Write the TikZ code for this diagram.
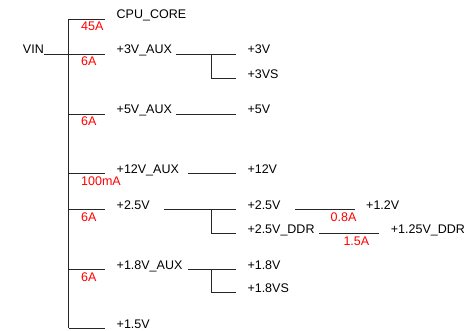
\documentclass[tikz,border=0pt]{standalone}
\usepackage{fontspec}
\setmainfont{Liberation Sans}
\begin{document}
\begin{tikzpicture}[x=1pt,y=-1pt,
  wire/.style={line width=0.8pt,draw=black!85},
  lbl/.style={anchor=base west,inner sep=0pt,font=\fontsize{12.5}{14}\selectfont,text=black},
  amp/.style={anchor=base west,inner sep=0pt,font=\fontsize{12.5}{14}\selectfont,text=red}]
\useasboundingbox (0,0) rectangle (470,331);
% bus
\coordinate (bt) at (68.5,19);
\coordinate (bb) at (68.5,328.3);
\draw[wire] (bt) -- (bb);
% stub ends
\coordinate (s1) at (105,19);
\coordinate (vinend) at (44.3,54);
\coordinate (s2) at (105,54);
\coordinate (b3) at (68.5,114);   \coordinate (s3) at (105,114);
\coordinate (b4) at (68.5,173.3); \coordinate (s4) at (105,173.3);
\coordinate (b5) at (68.5,209.3); \coordinate (s5) at (105,209.3);
\coordinate (b6) at (68.5,269);   \coordinate (s6) at (105,269);
\coordinate (s7) at (105,328.3);
\draw[wire] (bt) -- (s1);
\draw[wire] (vinend) -- (s2);
\draw[wire] (b3) -- (s3);
\draw[wire] (b4) -- (s4);
\draw[wire] (b5) -- (s5);
\draw[wire] (b6) -- (s6);
\draw[wire] (bb) -- (s7);
% left texts
\node[lbl] (cpu) at (116.5,19) {CPU\_CORE};
\node[lbl,anchor=base east] (vin) at (44,54) {VIN};
\node[lbl] (aux3) at (116.5,54) {+3V\_AUX};
\node[lbl] (aux5) at (116.5,114) {+5V\_AUX};
\node[lbl] (aux12) at (116.5,173.3) {+12V\_AUX};
\node[lbl] (v25) at (116.5,209.3) {+2.5V};
\node[lbl] (aux18) at (116.5,269) {+1.8V\_AUX};
\node[lbl] (v15) at (116.5,328.3) {+1.5V};
% currents
\node[amp] (a1) at (81,31) {45A};
\node[amp] (a2) at (81,66) {6A};
\node[amp] (a3) at (81,126) {6A};
\node[amp] (a4) at (81,185.5) {100mA};
\node[amp] (a5) at (81,221.3) {6A};
\node[amp] (a6) at (81,281) {6A};
% +3V_AUX branch
\coordinate (p3a) at (176,54);   \coordinate (p3b) at (236,54);
\coordinate (p3j) at (211.7,54); \coordinate (p3c) at (211.7,78.3); \coordinate (p3d) at (236,78.3);
\draw[wire] (p3a) -- (p3b);
\draw[wire] (p3j) -- (p3c) -- (p3d);
\node[lbl] (v3) at (247.3,54) {+3V};
\node[lbl] (v3s) at (247.3,78.3) {+3VS};
% +5V
\coordinate (p5a) at (176,114); \coordinate (p5b) at (236,114);
\draw[wire] (p5a) -- (p5b);
\node[lbl] (v5) at (247.3,114) {+5V};
% +12V
\coordinate (p12a) at (188.3,173.3); \coordinate (p12b) at (236,173.3);
\draw[wire] (p12a) -- (p12b);
\node[lbl] (v12) at (247.3,173.3) {+12V};
% +2.5V branch
\coordinate (p25a) at (164,209.3); \coordinate (p25b) at (236,209.3);
\coordinate (p25j) at (211.7,209.3); \coordinate (p25c) at (211.7,233); \coordinate (p25d) at (236,233);
\draw[wire] (p25a) -- (p25b);
\draw[wire] (p25j) -- (p25c) -- (p25d);
\node[lbl] (v25b) at (247.3,209.3) {+2.5V};
\node[lbl] (v25ddr) at (247.3,233) {+2.5V\_DDR};
\coordinate (p12va) at (295,209.3); \coordinate (p12vb) at (355,209.3);
\draw[wire] (p12va) -- (p12vb);
\node[lbl] (v12b) at (366,209.3) {+1.2V};
\node[amp] (a7) at (330.5,221) {0.8A};
\coordinate (pdda) at (319,233); \coordinate (pddb) at (379,233);
\draw[wire] (pdda) -- (pddb);
\node[lbl] (v125) at (390.7,233) {+1.25V\_DDR};
\node[amp] (a8) at (343.3,245) {1.5A};
% +1.8V branch
\coordinate (p18a) at (188.3,269); \coordinate (p18b) at (236,269);
\coordinate (p18j) at (211.7,269); \coordinate (p18c) at (211.7,292.7); \coordinate (p18d) at (236,292.7);
\draw[wire] (p18a) -- (p18b);
\draw[wire] (p18j) -- (p18c) -- (p18d);
\node[lbl] (v18) at (247.3,269) {+1.8V};
\node[lbl] (v18s) at (247.3,292.7) {+1.8VS};
\end{tikzpicture}
\end{document}
